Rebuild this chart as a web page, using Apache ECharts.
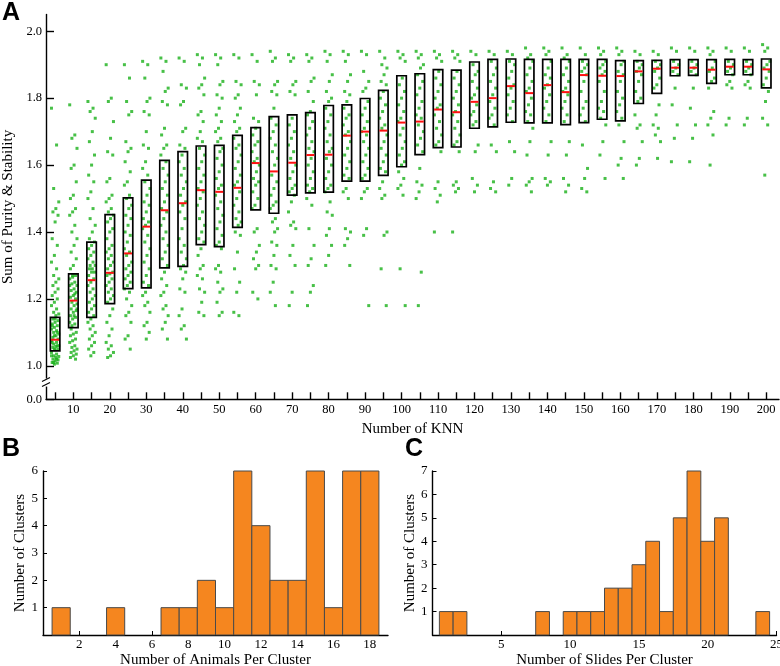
<!DOCTYPE html>
<html>
<head>
<meta charset="utf-8">
<script src="https://cdn.jsdelivr.net/npm/echarts@6/dist/echarts.min.js"></script>
<style>
html, body { margin: 0; padding: 0; background: #fff; }
#main { width: 780px; height: 666px; }
</style>
</head>
<body>
<div id="main"></div>
<script>
// panel A: KNN sweep
var knn = [5,10,15,20,25,30,35,40,45,50,55,60,65,70,75,80,85,90,95,100,
           105,110,115,120,125,130,135,140,145,150,155,160,165,170,175,180,185,190,195,200];
var knnLabels = [10,20,30,40,50,60,70,80,90,100,110,120,130,140,150,160,170,180,190,200];
var yTicksA = [0.9,1.0,1.2,1.4,1.6,1.8,2.0];   // 0.9 is the broken-axis "0.0"

var q1 = [1.045,1.114,1.145,1.186,1.231,1.233,1.293,1.297,1.362,1.356,1.414,1.466,1.456,1.510,1.517,1.519,1.552,1.552,1.569,1.595,
          1.631,1.652,1.654,1.710,1.714,1.728,1.726,1.726,1.721,1.727,1.737,1.732,1.784,1.814,1.867,1.868,1.844,1.870,1.870,1.831];
var median = [1.078,1.195,1.256,1.278,1.336,1.416,1.465,1.486,1.525,1.520,1.532,1.606,1.581,1.607,1.630,1.631,1.688,1.700,1.703,1.727,
          1.730,1.766,1.758,1.789,1.800,1.836,1.815,1.839,1.818,1.869,1.867,1.866,1.880,1.888,1.891,1.891,1.885,1.894,1.894,1.886];
var q3 = [1.145,1.275,1.370,1.452,1.502,1.555,1.614,1.640,1.657,1.659,1.689,1.712,1.745,1.750,1.757,1.778,1.780,1.799,1.823,1.867,
          1.873,1.885,1.884,1.908,1.916,1.917,1.916,1.916,1.916,1.916,1.916,1.912,1.912,1.913,1.915,1.915,1.915,1.916,1.915,1.917];

// individual runs, one list per knn value
var runs = [
  [1.77,1.66,1.53,1.49,1.47,1.46,1.45,1.43,1.38,1.36,1.33,1.31,1.29,1.27,1.26,1.25,1.24,1.23,1.22,1.21,1.20,1.19,1.18,1.17,1.16,1.155,1.15,
   1.14,1.135,1.13,1.125,1.12,1.115,1.11,1.105,1.10,1.095,1.09,1.085,1.08,1.14,1.12,1.10,1.09,
   1.075,1.07,1.065,1.06,1.058,1.055,1.05,1.048,1.07,1.06,1.05,
   1.04,1.035,1.03,1.028,1.025,1.02,1.018,1.015,1.01,1.008,1.005,1.03,1.02,1.01],
  [1.78,1.69,1.68,1.65,1.60,1.59,1.55,1.51,1.50,1.47,1.46,1.45,1.42,1.40,1.38,1.36,1.34,1.32,1.30,1.29,
   1.27,1.265,1.26,1.25,1.245,1.24,1.23,1.225,1.22,1.21,1.205,1.20,1.27,1.24,1.215,
   1.19,1.185,1.18,1.17,1.165,1.16,1.15,1.145,1.14,1.13,1.125,1.12,1.17,1.15,
   1.11,1.10,1.095,1.09,1.08,1.075,1.07,1.06,1.055,1.05,1.045,1.04,1.035,1.03,1.025,1.02],
  [1.79,1.77,1.76,1.74,1.70,1.67,1.63,1.60,1.57,1.55,1.52,1.50,1.47,1.44,1.42,1.40,1.38,
   1.37,1.36,1.35,1.34,1.33,1.32,1.31,1.30,1.30,1.29,1.29,1.28,1.28,1.27,1.26,
   1.25,1.24,1.23,1.22,1.21,1.20,1.19,1.18,1.17,1.16,1.15,
   1.14,1.13,1.12,1.11,1.10,1.09,1.08,1.07,1.06,1.05,1.04,1.03],
  [1.90,1.80,1.79,1.73,1.68,1.64,1.63,1.56,1.55,1.51,1.50,1.49,1.47,1.46,
   1.45,1.44,1.43,1.41,1.40,1.38,1.36,1.35,1.34,1.33,1.32,1.31,1.30,1.29,1.28,
   1.275,1.27,1.26,1.25,1.24,1.23,1.22,1.21,1.20,1.19,
   1.17,1.15,1.13,1.11,1.09,1.07,1.06,1.05,1.04,1.03,1.025],
  [1.90,1.86,1.79,1.76,1.75,1.67,1.65,1.64,1.61,1.58,1.55,1.54,1.51,
   1.50,1.48,1.47,1.45,1.44,1.42,1.40,1.39,1.37,1.35,1.34,
   1.33,1.31,1.30,1.29,1.28,1.27,1.26,1.25,1.24,1.23,
   1.22,1.20,1.18,1.16,1.15,1.13,1.09,1.08,1.05],
  [1.91,1.90,1.86,1.80,1.79,1.76,1.75,1.70,1.66,1.65,1.61,1.59,1.57,
   1.55,1.53,1.51,1.49,1.48,1.46,1.44,1.43,1.42,
   1.41,1.39,1.37,1.35,1.33,1.31,1.29,1.27,1.25,1.24,
   1.22,1.21,1.19,1.18,1.16,1.13,1.12,1.10,1.08],
  [1.92,1.91,1.88,1.83,1.82,1.79,1.78,1.71,1.69,1.66,1.65,1.63,
   1.61,1.59,1.57,1.55,1.53,1.51,1.49,1.47,
   1.46,1.44,1.42,1.40,1.38,1.36,1.34,1.32,1.30,
   1.28,1.26,1.24,1.22,1.21,1.18,1.17,1.15,1.13,1.11,1.08],
  [1.92,1.91,1.84,1.83,1.79,1.78,1.71,1.70,1.66,1.65,
   1.63,1.61,1.59,1.57,1.55,1.53,1.51,1.49,
   1.48,1.46,1.44,1.41,1.38,1.36,1.34,1.32,1.30,
   1.29,1.28,1.26,1.23,1.22,1.17,1.15,1.12,1.11,1.08],
  [1.93,1.92,1.90,1.86,1.84,1.83,1.81,1.76,1.75,1.73,1.70,1.68,1.67,
   1.65,1.63,1.61,1.59,1.57,1.55,1.53,
   1.52,1.50,1.48,1.46,1.44,1.42,1.40,1.38,1.37,
   1.35,1.33,1.30,1.29,1.27,1.26,1.23,1.22,1.19,1.16,1.15],
  [1.93,1.92,1.90,1.85,1.84,1.81,1.80,1.77,1.75,1.73,1.71,1.70,1.68,1.67,
   1.65,1.64,1.62,1.60,1.58,1.56,1.54,1.53,
   1.51,1.49,1.47,1.45,1.43,1.41,1.39,1.37,1.36,
   1.35,1.30,1.29,1.28,1.25,1.23,1.22,1.19,1.16,1.15],
  [1.93,1.92,1.85,1.84,1.81,1.80,1.77,1.75,1.73,1.71,1.70,
   1.68,1.66,1.65,1.63,1.61,1.59,1.57,1.55,1.54,
   1.52,1.50,1.48,1.46,1.44,1.43,1.42,
   1.40,1.39,1.34,1.29,1.25,1.22,1.16,1.15],
  [1.93,1.91,1.85,1.84,1.81,1.74,1.73,
   1.71,1.69,1.67,1.66,1.64,1.62,1.61,
   1.60,1.58,1.56,1.55,1.54,1.52,1.50,1.48,1.47,
   1.41,1.40,1.36,1.34,1.32,1.30,1.29,1.22,1.20],
  [1.94,1.92,1.91,1.85,1.84,1.82,1.81,1.77,
   1.74,1.72,1.70,1.68,1.66,1.64,1.62,1.60,
   1.57,1.55,1.53,1.51,1.49,1.48,1.47,
   1.44,1.43,1.41,1.40,1.37,1.36,1.33,1.30,1.29,1.25,1.22,1.18],
  [1.93,1.92,1.91,1.85,1.84,1.82,1.81,
   1.74,1.72,1.70,1.68,1.66,1.64,1.62,
   1.60,1.58,1.56,1.54,1.53,1.52,1.51,
   1.49,1.46,1.43,1.42,1.41,1.36,1.33,1.30,1.22,1.18],
  [1.93,1.92,1.91,1.86,1.85,1.82,1.79,1.76,
   1.75,1.73,1.71,1.69,1.67,1.65,1.64,
   1.62,1.60,1.58,1.56,1.54,1.53,1.52,
   1.50,1.48,1.41,1.36,1.32,1.30,1.24,1.22,1.18],
  [1.94,1.93,1.91,1.87,1.85,1.82,1.80,1.79,
   1.77,1.75,1.73,1.71,1.69,1.67,1.65,1.64,
   1.62,1.60,1.58,1.56,1.54,1.53,1.52,
   1.49,1.46,1.45,1.41,1.39,1.36,1.33,1.30],
  [1.94,1.93,1.91,1.87,1.85,1.82,1.81,1.79,
   1.77,1.75,1.74,1.72,1.70,1.69,
   1.67,1.65,1.63,1.61,1.59,1.57,1.56,
   1.53,1.52,1.50,1.41,1.40,1.38,1.36,1.30],
  [1.94,1.93,1.88,1.85,1.83,1.82,
   1.79,1.77,1.75,1.73,1.71,1.70,
   1.69,1.67,1.65,1.63,1.61,1.59,1.57,1.56,
   1.53,1.52,1.50,1.41,1.39,1.18],
  [1.94,1.92,1.90,1.89,1.87,1.85,1.84,
   1.82,1.80,1.78,1.76,1.74,1.72,1.71,
   1.69,1.67,1.65,1.63,1.61,1.59,1.58,
   1.55,1.53,1.51,1.50,1.40,1.39,1.29,1.18],
  [1.94,1.93,1.92,1.91,
   1.86,1.84,1.82,1.80,1.78,1.76,1.74,1.73,
   1.71,1.69,1.67,1.65,1.63,1.61,1.60,
   1.58,1.56,1.54,1.53,1.51,1.29,1.18],
  [1.94,1.93,1.92,1.90,1.89,
   1.87,1.85,1.83,1.81,1.79,1.77,1.75,1.74,
   1.72,1.70,1.68,1.66,1.64,
   1.59,1.55,1.54,1.52,1.50,1.28,1.18],
  [1.94,1.93,1.92,1.91,
   1.88,1.86,1.84,1.82,1.80,1.78,1.77,
   1.75,1.73,1.71,1.69,1.67,1.66,
   1.64,1.55,1.53,1.51,1.49,1.40],
  [1.94,1.93,1.92,1.91,
   1.88,1.86,1.84,1.82,1.80,1.78,1.76,
   1.75,1.73,1.71,1.69,1.67,1.66,
   1.64,1.55,1.54,1.53,1.52,1.40],
  [1.94,1.93,
   1.90,1.88,1.87,1.85,1.83,1.81,1.80,
   1.78,1.76,1.75,1.73,1.72,
   1.66,1.64,1.56,1.54,1.52],
  [1.94,1.93,
   1.91,1.89,1.87,1.85,1.83,1.81,
   1.79,1.77,1.75,1.74,1.72,
   1.66,1.64,1.55,1.53,1.52],
  [1.94,1.93,
   1.91,1.90,1.88,1.86,1.84,
   1.83,1.81,1.79,1.77,1.75,1.73,
   1.67,1.64,1.56,1.54],
  [1.95,1.93,1.92,
   1.91,1.89,1.87,1.85,1.83,1.82,
   1.80,1.78,1.76,1.75,1.73,
   1.71,1.67,1.63,1.56,1.55,1.54,1.52],
  [1.95,1.94,1.93,
   1.91,1.89,1.87,1.86,1.84,
   1.83,1.81,1.79,1.77,1.75,1.73,
   1.67,1.63,1.56,1.55,1.54],
  [1.95,1.93,1.92,
   1.91,1.89,1.87,1.85,1.83,1.82,
   1.81,1.79,1.77,1.75,1.73,
   1.67,1.63,1.56,1.54,1.52],
  [1.95,1.93,
   1.91,1.90,1.89,1.88,1.87,
   1.85,1.82,1.79,1.77,1.75,1.73,
   1.66,1.59,1.56,1.53,1.52],
  [1.95,1.94,1.93,
   1.91,1.90,1.89,1.88,1.87,
   1.85,1.82,1.79,1.77,1.76,1.74,
   1.72,1.67,1.63,1.56],
  [1.95,1.94,1.93,
   1.91,1.90,1.88,1.87,
   1.85,1.82,1.80,1.78,1.76,1.74,
   1.72,1.67,1.62,1.60,1.56],
  [1.94,1.93,
   1.91,1.90,1.89,1.88,
   1.87,1.85,1.82,1.80,1.79,
   1.75,1.72,1.71,1.67,1.62,1.60],
  [1.94,1.93,
   1.91,1.90,1.89,
   1.88,1.86,1.84,1.83,
   1.78,1.75,1.72,1.71,1.69,1.67,1.62],
  [1.95,1.94,
   1.91,1.90,1.89,
   1.88,1.87,
   1.83,1.78,1.72,1.68,1.61],
  [1.95,1.94,
   1.91,1.90,1.89,
   1.88,1.87,
   1.83,1.77,1.72,1.68,1.61],
  [1.95,1.94,1.93,
   1.91,1.89,
   1.88,1.86,1.85,
   1.83,1.76,1.74,1.72,1.69,1.60],
  [1.95,1.94,
   1.91,1.90,
   1.89,1.88,1.87,
   1.85,1.84,1.83,1.74,1.72],
  [1.95,1.94,
   1.91,1.90,
   1.89,1.88,1.87,
   1.85,1.84,1.83,1.74,1.72],
  [1.96,1.95,1.94,
   1.91,1.90,1.89,
   1.88,1.86,1.84,
   1.82,1.79,1.74,1.72,1.57]
];

// panel B: animals per cluster
var animalBins = [1,2,3,4,5,6,7,8,9,10,11,12,13,14,15,16,17,18];
var animalCounts = [1,0,0,1,0,0,1,1,2,1,6,4,2,2,6,1,6,6];

// panel C: slides per cluster
var slideBins = [1,2,3,4,5,6,7,8,9,10,11,12,13,14,15,16,17,18,19,20,21,22,23,24];
var slideCounts = [1,1,0,0,0,0,0,1,0,1,1,1,2,2,3,4,1,5,7,4,5,0,0,1];

var serif = '"Liberation Serif", "DejaVu Serif", serif';
var ink = '#000';
var letterFont = 'bold 25px "Liberation Sans", Arial, sans-serif';

var scatterData = [];
for (var c = 0; c < knn.length; c++) {
    for (var i = 0; i < runs[c].length; i++) {
        var off = (((i * 7) % 11) - 5) * 0.2;   // spread points across the box width
        scatterData.push([knn[c] + off, runs[c][i]]);
    }
}

var boxData = [];
for (var k = 0; k < knn.length; k++) {
    boxData.push([knn[k], q1[k], median[k], q3[k]]);
}

function histData(bins, counts) {
    var out = [];
    for (var i = 0; i < bins.length; i++) {
        if (counts[i] > 0) out.push([bins[i], counts[i]]);
    }
    return out;
}

function renderBox(params, api) {
    var x = api.value(0);
    var hw = 1.3;
    var lo = api.coord([x - hw, api.value(1)]);
    var hi = api.coord([x + hw, api.value(3)]);
    var m1 = api.coord([x - hw, api.value(2)]);
    var m2 = api.coord([x + hw, api.value(2)]);
    return {
        type: 'group',
        children: [{
            type: 'rect',
            shape: { x: lo[0], y: hi[1], width: hi[0] - lo[0], height: lo[1] - hi[1] },
            style: { fill: 'none', stroke: ink, lineWidth: 1.7 }
        }, {
            type: 'line',
            shape: { x1: m1[0] + 0.8, y1: m1[1], x2: m2[0] - 0.8, y2: m2[1] },
            style: { stroke: '#ff1010', lineWidth: 2 }
        }]
    };
}

function renderBar(params, api) {
    var x = api.value(0);
    var a = api.coord([x - 0.5, api.value(1)]);
    var b = api.coord([x + 0.5, 0]);
    return {
        type: 'rect',
        shape: { x: a[0], y: a[1], width: b[0] - a[0], height: b[1] - a[1] },
        style: { fill: '#f5861f', stroke: '#4a4a4a', lineWidth: 1 }
    };
}

var axisLine = { show: true, lineStyle: { color: ink, width: 1.4 } };
var tickLabel = { color: ink, fontFamily: serif, fontSize: 13 };
var nameStyle = { color: ink, fontFamily: serif, fontSize: 15 };

var option = {
    animation: false,
    backgroundColor: '#fff',
    grid: [
        { left: 46, right: 1, top: 14.5, bottom: 266.7, containLabel: false, outerBoundsMode: 'none' },
        { left: 43, width: 345, top: 471, bottom: 31, containLabel: false, outerBoundsMode: 'none' },
        { left: 432.5, width: 344, top: 471, bottom: 31, containLabel: false, outerBoundsMode: 'none' }
    ],
    xAxis: [{
        gridIndex: 0, type: 'value', min: 2.5, max: 203.5,
        name: 'Number of KNN', nameLocation: 'middle', nameGap: 19, nameTextStyle: nameStyle,
        axisLine: axisLine,
        axisTick: { show: true, inside: true, length: 7, lineStyle: { color: ink, width: 1.4 }, customValues: knn },
        axisLabel: Object.assign({ customValues: knnLabels, margin: 4 }, tickLabel, { fontSize: 12.5 }),
        splitLine: { show: false }
    }, {
        gridIndex: 1, type: 'value', min: 0, max: 19,
        name: 'Number of Animals Per Cluster', nameLocation: 'middle', nameGap: 18, nameTextStyle: nameStyle,
        axisLine: axisLine,
        axisTick: { show: true, inside: true, length: 4, lineStyle: { color: ink }, customValues: [2,4,6,8,10,12,14,16,18] },
        axisLabel: Object.assign({ customValues: [2,4,6,8,10,12,14,16,18], margin: 3 }, tickLabel),
        splitLine: { show: false }
    }, {
        gridIndex: 2, type: 'value', min: 0, max: 25,
        name: 'Number of Slides Per Cluster', nameLocation: 'middle', nameGap: 18, nameTextStyle: nameStyle,
        axisLine: axisLine,
        axisTick: { show: true, inside: true, length: 4, lineStyle: { color: ink }, customValues: [5,10,15,20,25] },
        axisLabel: Object.assign({ customValues: [5,10,15,20,25], margin: 3 }, tickLabel),
        splitLine: { show: false }
    }],
    yAxis: [{
        gridIndex: 0, type: 'value', min: 0.9, max: 2.05,
        name: 'Sum of Purity & Stability', nameLocation: 'middle', nameGap: 22, nameTextStyle: nameStyle,
        axisLine: axisLine,
        axisTick: { show: true, inside: true, length: 8, lineStyle: { color: ink, width: 1.4 }, customValues: yTicksA },
        axisLabel: Object.assign({
            customValues: yTicksA, margin: 4,
            formatter: function (v) { return v < 0.95 ? '0.0' : v.toFixed(1); }
        }, tickLabel, { fontSize: 12.5 }),
        splitLine: { show: false }
    }, {
        gridIndex: 1, type: 'value', min: 0, max: 6,
        name: 'Number of Clusters', nameLocation: 'middle', nameGap: 10, nameTextStyle: nameStyle,
        axisLine: axisLine,
        axisTick: { show: true, inside: true, length: 4, lineStyle: { color: ink }, customValues: [1,2,3,4,5,6] },
        axisLabel: Object.assign({ customValues: [1,2,3,4,5,6], margin: 5 }, tickLabel),
        splitLine: { show: false }
    }, {
        gridIndex: 2, type: 'value', min: 0, max: 7,
        name: 'Number of Clusters', nameLocation: 'middle', nameGap: 12.5, nameTextStyle: nameStyle,
        axisLine: axisLine,
        axisTick: { show: true, inside: true, length: 4, lineStyle: { color: ink }, customValues: [1,2,3,4,5,6,7] },
        axisLabel: Object.assign({ customValues: [1,2,3,4,5,6,7], margin: 5 }, tickLabel),
        splitLine: { show: false }
    }],
    series: [{
        type: 'scatter', xAxisIndex: 0, yAxisIndex: 0,
        data: scatterData, symbol: 'rect', symbolSize: 3,
        itemStyle: { color: '#19b019' }, z: 2, silent: true
    }, {
        type: 'custom', xAxisIndex: 0, yAxisIndex: 0,
        data: boxData, renderItem: renderBox,
        encode: { x: 0, y: [1, 2, 3] }, z: 3, silent: true
    }, {
        type: 'custom', xAxisIndex: 1, yAxisIndex: 1,
        data: histData(animalBins, animalCounts), renderItem: renderBar,
        encode: { x: 0, y: 1 }, z: 2, silent: true
    }, {
        type: 'custom', xAxisIndex: 2, yAxisIndex: 2,
        data: histData(slideBins, slideCounts), renderItem: renderBar,
        encode: { x: 0, y: 1 }, z: 2, silent: true
    }]
};

var myChart = echarts.init(document.getElementById('main'));
myChart.setOption(option);

// panel letters and the axis break marks between 0.0 and 1.0
var bp = myChart.convertToPixel({ xAxisIndex: 0, yAxisIndex: 0 }, [2.5, 0.95]);
myChart.setOption({
    graphic: [
        { type: 'text', left: 2, top: 1, style: { text: 'A', font: letterFont, fill: ink } },
        { type: 'text', left: 2, top: 437, style: { text: 'B', font: letterFont, fill: ink } },
        { type: 'text', left: 405, top: 437, style: { text: 'C', font: letterFont, fill: ink } },
        { type: 'rect', shape: { x: bp[0] - 2, y: bp[1] - 4, width: 4, height: 8 }, style: { fill: '#fff' }, z: 100 },
        { type: 'line', shape: { x1: bp[0] - 4, y1: bp[1] - 1, x2: bp[0] + 4, y2: bp[1] - 5 }, style: { stroke: ink, lineWidth: 1.2 }, z: 101 },
        { type: 'line', shape: { x1: bp[0] - 4, y1: bp[1] + 4, x2: bp[0] + 4, y2: bp[1] }, style: { stroke: ink, lineWidth: 1.2 }, z: 101 }
    ]
});
</script>
</body>
</html>
